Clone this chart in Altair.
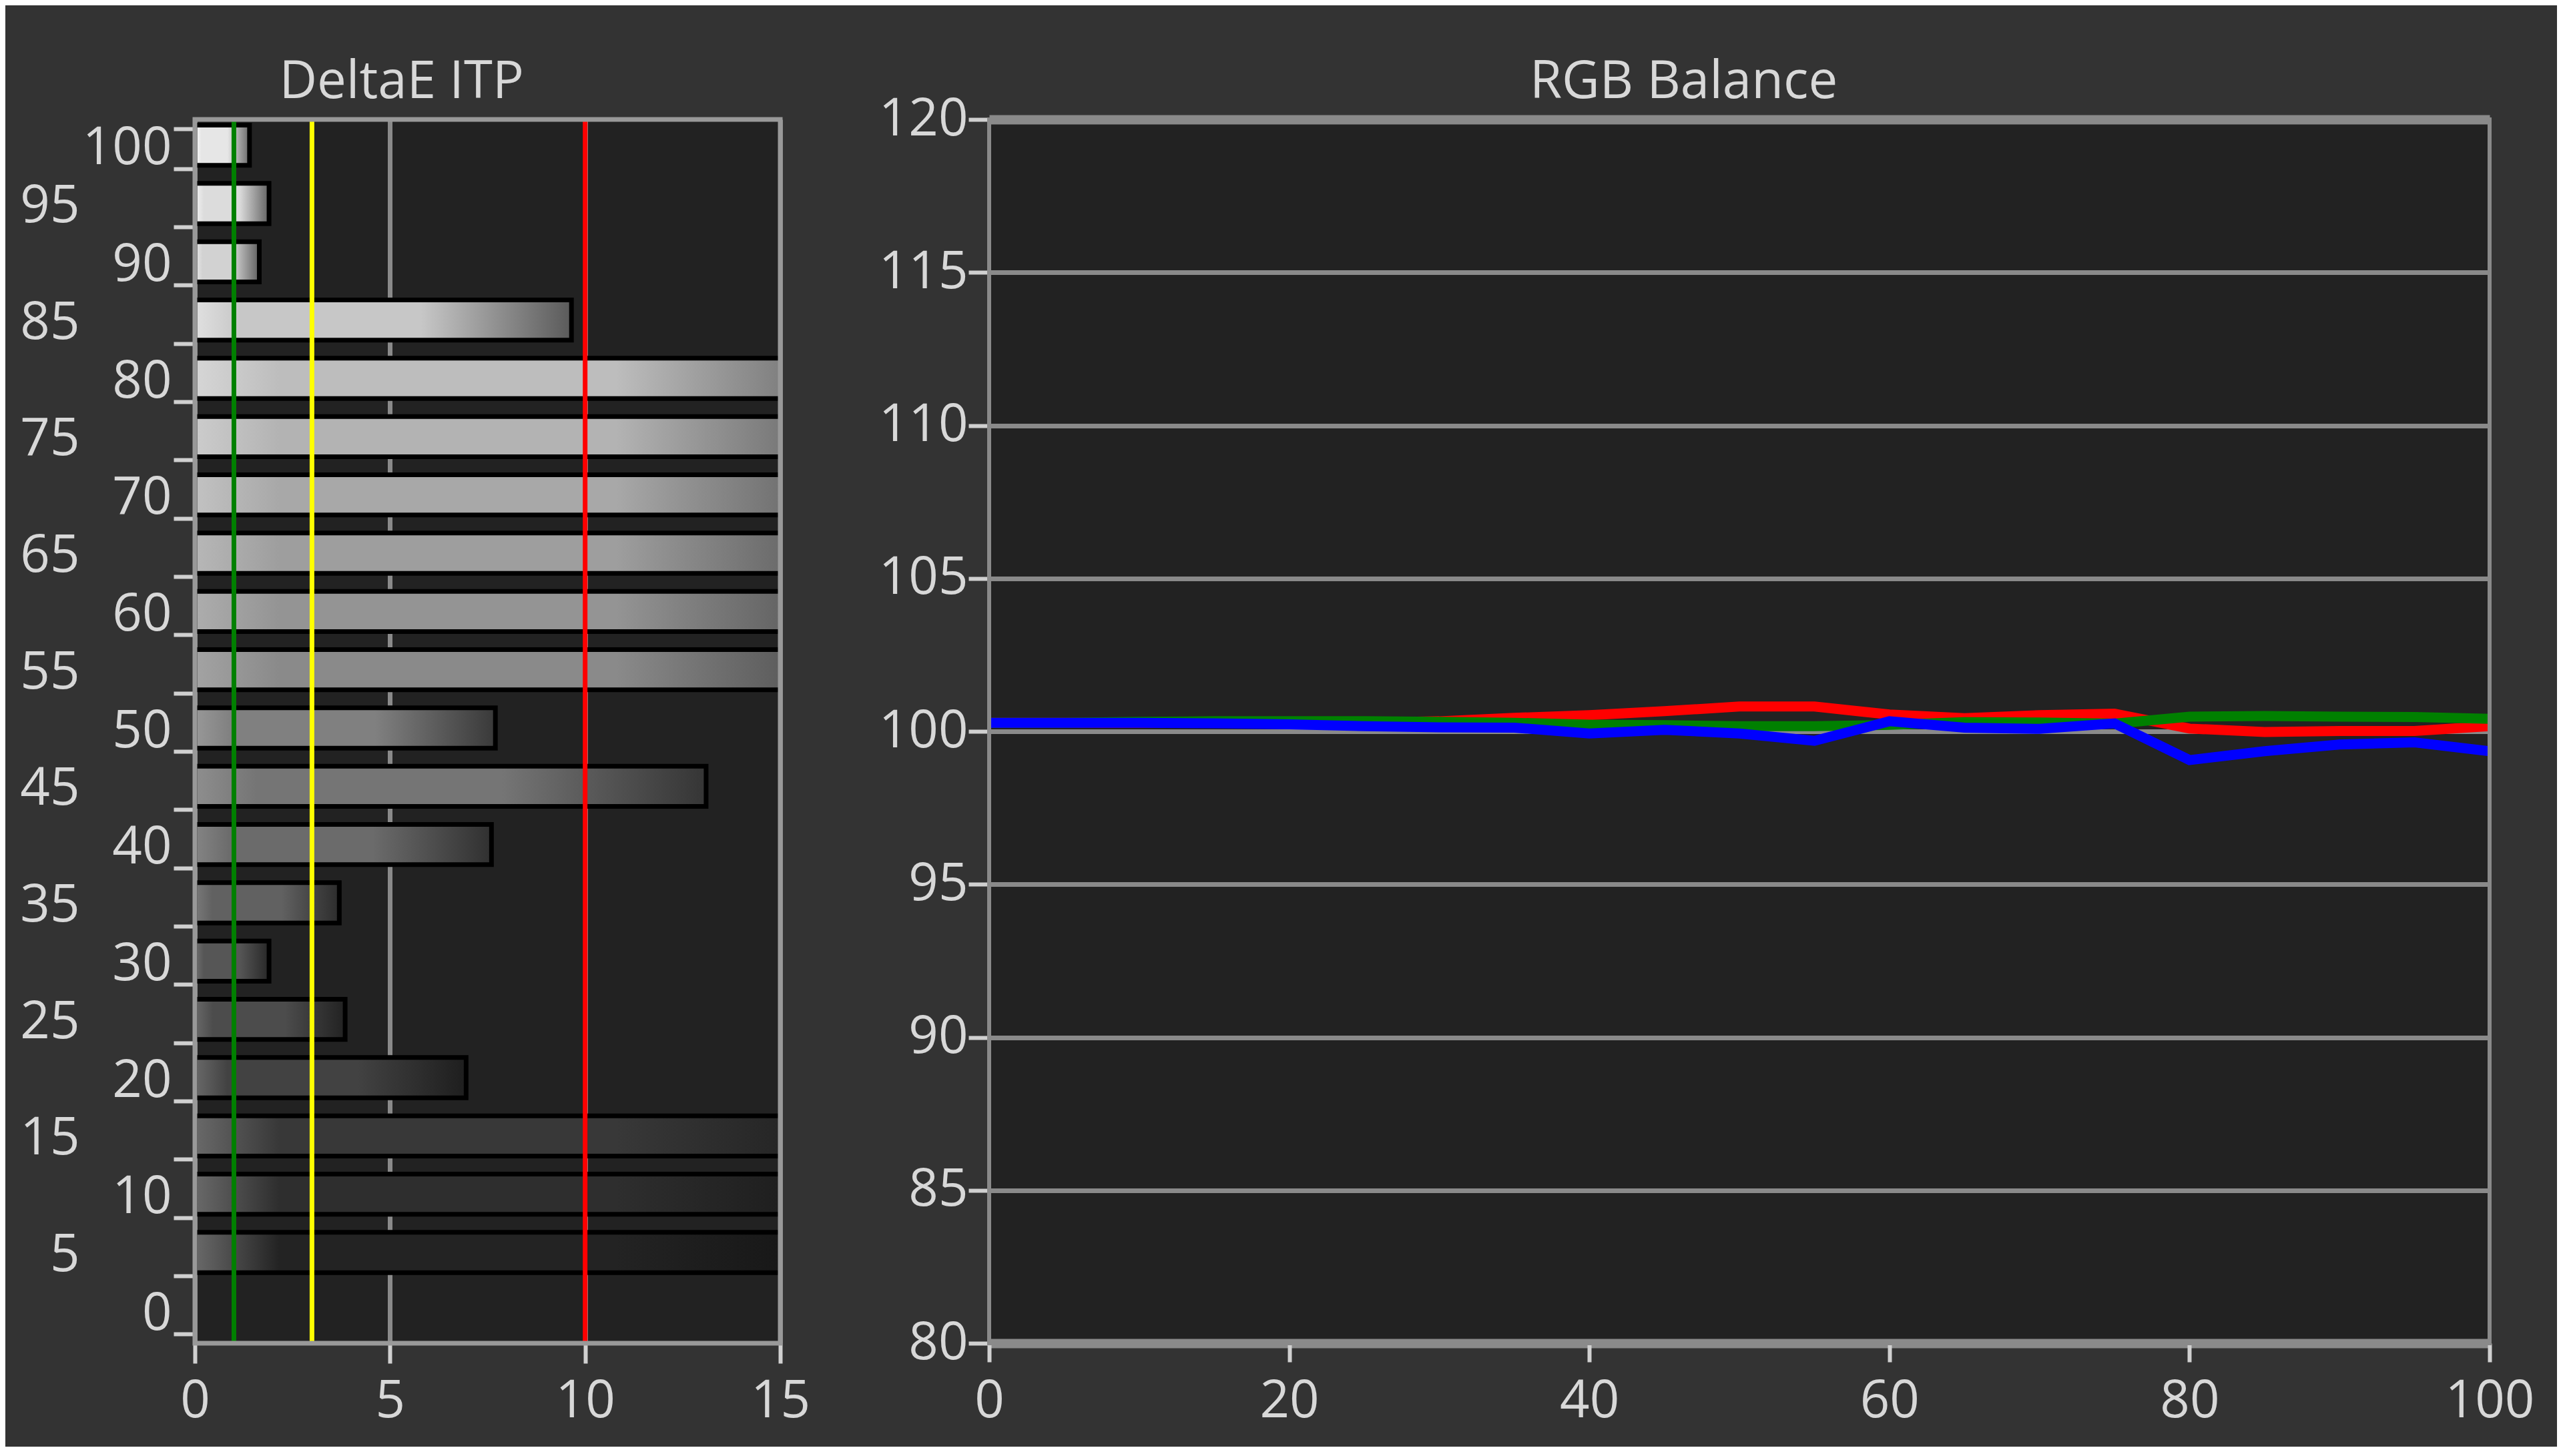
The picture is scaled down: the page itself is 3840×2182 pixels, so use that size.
import altair as alt
import pandas as pd

# ---------------- data ----------------
levels = [100, 95, 90, 85, 80, 75, 70, 65, 60, 55, 50, 45, 40, 35, 30, 25, 20, 15, 10, 5, 0]
delta_e = [1.4, 1.9, 1.65, 9.65, 18.0, 18.0, 18.0, 18.0, 18.0, 18.0, 7.7, 13.1, 7.6, 3.7,
           1.9, 3.85, 6.95, 18.0, 18.0, 18.0, None]
thresholds = [1, 3, 10]
threshold_colors = ["#008000", "#ffff00", "#ff0000"]
de_ticks = [0, 5, 10, 15]

stimulus = [0, 5, 10, 15, 20, 25, 30, 35, 40, 45, 50, 55, 60, 65, 70, 75, 80, 85, 90, 95, 100]
red = [100.28, 100.28, 100.28, 100.28, 100.28, 100.28, 100.33, 100.44, 100.53, 100.66, 100.81,
       100.81, 100.55, 100.43, 100.53, 100.58, 100.09, 99.98, 100.01, 100.01, 100.17]
green = [100.28, 100.28, 100.31, 100.33, 100.33, 100.33, 100.31, 100.28, 100.22, 100.2, 100.17,
         100.17, 100.21, 100.3, 100.29, 100.25, 100.48, 100.5, 100.48, 100.47, 100.41]
blue = [100.28, 100.28, 100.28, 100.26, 100.23, 100.17, 100.13, 100.12, 99.93, 100.05, 99.93,
        99.69, 100.33, 100.12, 100.08, 100.26, 99.06, 99.35, 99.57, 99.64, 99.35]
channels = ["Red", "Green", "Blue"]
channel_colors = ["#ff0000", "#008000", "#0000ff"]
rgb_y_ticks = [80, 85, 90, 95, 100, 105, 110, 115, 120]
rgb_x_ticks = [0, 20, 40, 60, 80, 100]

# ---------------- style ----------------
FONT = "Open Sans"
LABEL = "#d8d8d8"
TICK = "#d0d0d0"
GRID = "#8a8a8a"
FS = 78
H = 1834


def grey(v):
    v = max(0, min(255, int(round(v))))
    return "#{0:02x}{0:02x}{0:02x}".format(v)


def bar_gradient(level):
    mid = 25 + 205 * level / 100
    left = min(255, max(mid + 25, 105))
    end = mid * 0.45
    return {
        "gradient": "linear", "x1": 0, "y1": 0, "x2": 1, "y2": 0,
        "stops": [
            {"offset": 0, "color": grey(left)},
            {"offset": 0.12, "color": grey(mid)},
            {"offset": 0.6, "color": grey(mid)},
            {"offset": 1, "color": grey(end)},
        ],
    }


de_df = pd.DataFrame({"level": levels, "dE": delta_e})
thr_df = pd.DataFrame({"t": thresholds})
frame_df = pd.DataFrame({"f": [0]})

x_de = alt.X(
    "dE:Q",
    scale=alt.Scale(domain=[0, 15], nice=False, zero=True),
    axis=alt.Axis(values=de_ticks, format="d", title=None, domain=False, grid=True,
                  gridColor=GRID, gridWidth=7, ticks=True, tickSize=30, tickWidth=6,
                  tickColor=TICK, labelPadding=18, labelFontSize=FS, labelColor=LABEL,
                  labelFont=FONT, labelFlush=False),
)
y_scale_de = alt.Scale(domain=levels, paddingInner=0.31, paddingOuter=0.155)
# inner axis: ticks + labels for multiples of 10
y_de = alt.Y(
    "level:O",
    scale=y_scale_de,
    axis=alt.Axis(title=None, domain=False, grid=False, tickBand="extent", tickSize=32,
                  tickWidth=6, tickColor=TICK, labelPadding=3, labelFontSize=FS,
                  labelColor=LABEL, labelFont=FONT, labelAngle=0, labelOverlap=False,
                  orient="left",
                  labelExpr="datum.value % 10 == 0 ? datum.label : ''"),
)
# outer axis: labels for the 5s
y_de_outer = alt.Y(
    "level:O",
    scale=y_scale_de,
    axis=alt.Axis(title=None, domain=False, grid=False, ticks=False, tickSize=0,
                  labelPadding=173, labelFontSize=FS, labelColor=LABEL, labelFont=FONT,
                  labelAngle=0, labelOverlap=False, orient="left",
                  labelExpr="datum.value % 10 == 5 ? datum.label : ''"),
)

bar_layers = []
for lv, v in zip(levels, delta_e):
    if v is None:
        continue
    bar_layers.append(
        alt.Chart(de_df)
        .transform_filter(alt.datum.level == lv)
        .mark_bar(fill=bar_gradient(lv), stroke="black", strokeWidth=7, clip=True, yOffset=-5)
        .encode(x=x_de, y=y_de)
    )
bars = alt.layer(*bar_layers)

outer_labels = alt.Chart(de_df).mark_point(opacity=0).encode(
    x=alt.value(0), y=y_de_outer
)

rules = alt.Chart(thr_df).mark_rule(strokeWidth=7).encode(
    x=alt.X("t:Q"),
    color=alt.Color("t:N", scale=alt.Scale(domain=thresholds, range=threshold_colors), legend=None),
)

frame_left = alt.Chart(frame_df).mark_rect(filled=False, stroke="#999999", strokeWidth=7).encode(
    x=alt.value(0), x2=alt.value("width"), y=alt.value(0), y2=alt.value("height")
)

left = (
    alt.layer(bars, outer_labels, rules, frame_left)
    .resolve_axis(y="independent")
    .properties(width=877, height=H, title=alt.Title("DeltaE ITP", dx=-20))
)

# ---------------- RGB balance ----------------
rows = []
for ch, vals in zip(channels, [red, green, blue]):
    for s, v in zip(stimulus, vals):
        rows.append({"x": s, "v": v, "ch": ch})
rgb_df = pd.DataFrame(rows)

x_rgb = alt.X(
    "x:Q",
    scale=alt.Scale(domain=[0, 100], nice=False),
    axis=alt.Axis(values=rgb_x_ticks, format="d", title=None, domain=False, grid=False,
                  ticks=True, tickSize=28, tickWidth=6, tickColor=TICK, labelPadding=20,
                  labelFontSize=FS, labelColor=LABEL, labelFont=FONT, labelFlush=False),
)
y_rgb = alt.Y(
    "v:Q",
    scale=alt.Scale(domain=[80, 120], nice=False, zero=False),
    axis=alt.Axis(values=rgb_y_ticks, format="d", title=None, domain=False, grid=True,
                  gridColor=GRID,
                  gridWidth={"condition": {"test": "datum.value == 80 || datum.value == 120",
                                           "value": 14}, "value": 7},
                  ticks=True, tickSize=31, tickWidth=6, tickColor=TICK, labelPadding=1,
                  labelFontSize=FS, labelColor=LABEL, labelFont=FONT),
)
color_rgb = alt.Color("ch:N", scale=alt.Scale(domain=channels, range=channel_colors), legend=None)

line_layers = []
for ch in channels:
    line_layers.append(
        alt.Chart(rgb_df)
        .transform_filter(alt.datum.ch == ch)
        .mark_line(strokeWidth=15, clip=True)
        .encode(x=x_rgb, y=y_rgb, color=color_rgb)
    )

frame_right = alt.Chart(frame_df).mark_rect(filled=False, stroke=GRID, strokeWidth=6).encode(
    x=alt.value(0), x2=alt.value("width"), y=alt.value(0), y2=alt.value("height")
)

right = alt.layer(*line_layers, frame_right).properties(
    width=2248, height=H, title=alt.Title("RGB Balance", dx=-34)
)

chart = (
    alt.hconcat(left, right, spacing=100)
    .resolve_scale(color="independent")
    .properties(padding={"left": 21, "top": 76, "right": 33, "bottom": 28},
                background="#333333")
    .configure_view(fill="#222222", stroke="transparent")
    .configure_title(font=FONT, fontSize=FS, fontWeight="normal", color=LABEL,
                     anchor="middle", frame="bounds", offset=-23)
)

chart.save("out.html", embed_options={"renderer": "svg", "actions": False})
